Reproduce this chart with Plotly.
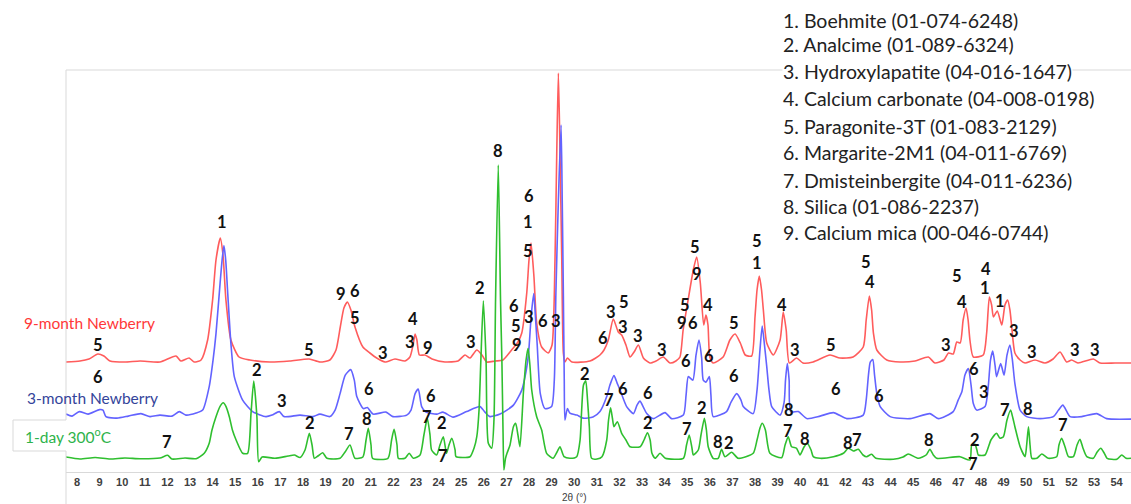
import plotly.graph_objects as go

# ---------------- data (2θ in degrees, intensity above each pattern's own baseline, a.u.) ----------------
red_2theta = [7.51, 8.13, 8.53, 8.92, 9.19, 9.46, 10.12, 10.79, 11.67, 12.38, 12.60, 12.96, 13.18, 13.49, 13.78,
              14.00, 14.15, 14.34, 14.46, 14.59, 14.81, 15.17, 15.65, 16.54, 17.42, 18.27, 18.75, 19.19, 19.46, 19.65,
              19.81, 19.96, 20.12, 20.30, 20.65, 20.96, 21.26, 21.63, 22.07, 22.51, 22.73, 22.87, 22.96, 23.04, 23.15,
              23.40, 23.71, 24.28, 24.86, 25.17, 25.39, 25.69, 25.92, 26.13, 26.50, 26.85, 27.23, 27.51, 27.68, 27.90,
              28.00, 28.09, 28.22, 28.34, 28.56, 28.85, 29.02, 29.15, 29.23, 29.30, 29.37, 29.45, 29.52, 29.59, 29.70,
              29.90, 30.70, 31.14, 31.32, 31.51, 31.73, 31.95, 32.10, 32.29, 32.47, 32.65, 32.84, 33.06, 33.35, 33.62,
              33.94, 34.24, 34.50, 34.68, 34.82, 35.04, 35.27, 35.42, 35.58, 35.73, 35.83, 35.92, 36.00, 36.15, 36.59,
              36.89, 37.12, 37.35, 37.57, 37.85, 38.00, 38.09, 38.19, 38.29, 38.37, 38.52, 38.81, 39.11, 39.25, 39.38,
              39.52, 39.84, 40.12, 40.57, 41.32, 41.76, 42.34, 42.79, 42.92, 43.06, 43.16, 43.24, 43.39, 43.83, 44.42,
              45.08, 45.67, 45.96, 46.36, 46.56, 46.77, 46.93, 47.08, 47.21, 47.34, 47.43, 47.51, 47.66, 48.10, 48.25,
              48.37, 48.47, 48.55, 48.72, 48.92, 49.06, 49.18, 49.28, 49.36, 49.50, 49.73, 49.95, 50.39, 50.83, 51.19,
              51.50, 51.79, 52.01, 52.29, 52.97, 53.27, 53.93, 54.64]
red_counts = [0, 1, 3, 8, 6, 1, 0, 1, 0, 6, 1, 4, 0, 2, 22,
              62, 102, 124, 107, 62, 22, 5, 2, 0, 1, 3, 0, 2, 12, 35,
              54, 60, 52, 35, 15, 9, 4, 0, 3, 1, 5, 17, 28, 22, 7,
              7, 3, 0, 1, 7, 4, 12, 7, 0, 1, 2, 12, 20, 29, 69,
              102, 119, 85, 39, 15, 9, 17, 102, 212, 289, 212, 102, 9, 0, 4,
              0, 1, 7, 12, 22, 43, 30, 27, 17, 5, 10, 17, 4, -1, 1,
              5, -1, 1, 5, 32, 62, 92, 105, 79, 37, 47, 37, 5, -1, 5,
              22, 28, 19, 7, 6, 45, 72, 86, 72, 52, 19, 7, 22, 50, 32,
              -1, 4, -1, 0, 7, 4, 5, 15, 42, 66, 52, 29, 12, 2, 0,
              1, 5, -1, 2, 9, 8, 20, 19, 42, 54, 42, 22, 5, 7, 29,
              65, 57, 45, 51, 37, 57, 62, 52, 35, 9, 2, -1, 2, -1, 3,
              10, 0, 2, -1, 3, -1, -1, -1]

blue_2theta = [7.51, 7.78, 8.10, 8.49, 8.99, 9.15, 9.28, 9.77, 10.27, 10.83, 11.23, 11.67, 12.20, 12.53, 12.82,
               13.27, 13.56, 13.85, 14.02, 14.15, 14.33, 14.42, 14.50, 14.58, 14.67, 14.81, 14.96, 15.33, 15.77, 16.36,
               16.63, 16.95, 17.16, 17.87, 18.43, 18.75, 19.19, 19.42, 19.64, 19.87, 20.11, 20.27, 20.38, 20.67, 20.85,
               21.10, 21.67, 21.98, 22.59, 22.78, 22.96, 23.10, 23.25, 23.44, 23.93, 24.19, 24.64, 25.24, 25.83, 26.05,
               26.27, 26.72, 27.31, 27.68, 27.88, 27.98, 28.10, 28.21, 28.28, 28.36, 28.50, 28.71, 29.00, 29.12, 29.19,
               29.30, 29.42, 29.47, 29.52, 29.56, 29.59, 29.70, 29.81, 30.12, 30.39, 30.83, 31.14, 31.44, 31.58, 31.76,
               31.90, 32.03, 32.32, 32.62, 32.78, 32.91, 33.06, 33.21, 33.50, 34.02, 34.31, 34.83, 34.95, 35.05, 35.25,
               35.39, 35.52, 35.64, 35.71, 35.83, 35.98, 36.05, 36.15, 36.74, 36.94, 37.19, 37.38, 37.48, 37.92, 38.09,
               38.22, 38.32, 38.42, 38.52, 38.62, 38.74, 39.11, 39.29, 39.35, 39.43, 39.51, 39.58, 39.92, 40.29, 40.88,
               41.47, 42.06, 42.79, 42.92, 43.02, 43.10, 43.21, 43.29, 43.39, 43.54, 43.98, 44.86, 45.74, 46.11, 46.77,
               46.99, 47.15, 47.29, 47.44, 47.56, 47.66, 47.81, 48.18, 48.32, 48.42, 48.52, 48.62, 48.69, 48.87, 49.02,
               49.15, 49.28, 49.39, 49.50, 49.73, 50.02, 50.61, 51.20, 51.43, 51.62, 51.81, 51.94, 52.46, 53.12, 53.56,
               54.64]
blue_counts = [2.5, 0.5, 5, 2.5, 7, 6.5, 0, -1.5, 0.5, 3, 0, 1.5, 0.5, 5, 1.5,
               3.5, 6.5, 30, 56.5, 83, 133, 156.5, 171, 156.5, 123, 73, 40, 16.5, 5, 0,
               1.5, 5, 0, 1.5, 0, 2.5, 0, 6.5, 23, 41.5, 47, 36.5, 20, 8, 9,
               2.5, 4.5, 0, 1.5, 6.5, 23, 27.5, 10, 4.5, 2.5, 4.5, -0.5, 5, 10, 4.5,
               0, 2.5, 11.5, 26.5, 46.5, 63, 101.5, 123, 101.5, 73, 23, 8, 10, 36.5, 123,
               216.5, 291.5, 216.5, 123, 36.5, -3.5, 8, 3.5, 1.5, -1.5, -0.5, 5, 20, 31.5, 41,
               33.5, 26.5, 10, 3, 11.5, 15.5, 9.5, 3, -2, 4, -2, 1.5, 21.5, 40, 36.5,
               61.5, 76.5, 58.5, 36.5, 34.5, 40, 21.5, 0, 5, 14.5, 23, 16.5, 10, 3, 26.5,
               66.5, 90.5, 71.5, 50, 26.5, 10, 1.5, 14.5, 36.5, 53, 36.5, 5, 5, -2, 0.5,
               4, -2, 1.5, 16.5, 41.5, 54.5, 57, 41.5, 23, 10, 0, -2, 3, -2, 5,
               16.5, 24.5, 41.5, 48, 31.5, 13, 6.5, 10, 30, 56.5, 65.5, 51.5, 40, 53, 41.5,
               61.5, 71.5, 56.5, 33, 6.5, 0, -2, 0, 6.5, 11.5, 4.5, 0, 0, 3, -2,
               -2.5]

green_2theta = [7.51, 8.13, 8.80, 9.46, 10.12, 10.79, 11.67, 12.01, 12.20, 12.78, 13.27, 13.63, 13.85, 13.97, 14.15,
                14.33, 14.47, 14.59, 14.74, 14.88, 15.04, 15.33, 15.55, 15.70, 15.82, 15.96, 16.04, 16.19, 16.76, 17.34,
                17.62, 17.87, 18.09, 18.28, 18.40, 18.50, 18.66, 18.87, 19.06, 19.64, 19.86, 20.08, 20.30, 20.65, 20.79,
                20.89, 21.01, 21.08, 21.76, 21.92, 22.03, 22.16, 22.22, 22.51, 22.70, 22.88, 23.18, 23.35, 23.50, 23.62,
                23.69, 23.91, 24.06, 24.21, 24.35, 24.46, 24.58, 24.73, 24.77, 25.39, 25.57, 25.69, 25.79, 25.87, 25.98,
                26.10, 26.20, 26.35, 26.45, 26.52, 26.64, 26.74, 26.80, 26.85, 26.89, 26.96, 27.03, 27.16, 27.31, 27.41,
                27.51, 27.60, 27.75, 27.87, 27.96, 28.04, 28.12, 28.34, 28.56, 28.78, 29.06, 29.24, 29.37, 29.55, 29.81,
                30.11, 30.26, 30.33, 30.41, 30.51, 30.59, 30.67, 30.77, 31.01, 31.23, 31.44, 31.52, 31.61, 31.69, 31.76,
                31.91, 32.10, 32.29, 32.47, 32.92, 33.09, 33.24, 33.36, 33.44, 33.58, 33.80, 34.03, 34.83, 34.97, 35.09,
                35.21, 35.27, 35.49, 35.61, 35.76, 35.85, 35.93, 36.15, 36.37, 36.52, 36.67, 36.97, 37.26, 37.92, 38.09,
                38.22, 38.32, 38.46, 38.66, 39.18, 39.33, 39.47, 39.62, 39.84, 39.99, 40.17, 40.31, 40.48, 40.58, 40.88,
                41.47, 41.91, 42.13, 42.35, 42.57, 42.78, 42.94, 43.16, 43.35, 44.12, 44.55, 44.78, 45.23, 45.57, 45.74,
                45.89, 46.04, 47.07, 47.51, 47.59, 47.73, 47.82, 47.88, 48.18, 48.44, 48.69, 48.84, 48.99, 49.15, 49.31,
                49.41, 49.50, 49.73, 49.95, 50.02, 50.10, 50.17, 50.25, 50.47, 50.69, 50.98, 51.35, 51.45, 51.57, 51.72,
                51.87, 52.09, 52.25, 52.38, 52.51, 52.68, 52.97, 53.14, 53.30, 53.45, 53.58, 54.01, 54.23, 54.42, 54.64]
green_counts = [1.3, -0.7, 0.8, -0.7, 0.3, -0.5, 0.3, 3, -0.7, 0.3, -0.4, 5, 15, 28, 41.6,
                52, 55.6, 52, 41.6, 28, 18.3, 5, 5, 45, 77.3, 41.6, -3.4, 1.3, 0, 2.3,
                3.3, 0.8, 8.3, 25, 13.3, 0, 2.3, 5.6, 0, 0, 6.3, 13.3, 0, 1.3, 18.3,
                30, 13.3, 0, 0, 18.3, 29, 13.3, 0, 0, 5, 0, 3.3, 23.3, 40, 23.3,
                8.3, 3.3, 13.3, 21.6, 5, 13.3, 20, 8.3, 1.6, 1.6, 10.3, 21.6, 48.3, 98.3, 157.6,
                98.3, 15, 10, 38.3, 158.3, 293.3, 158.3, 98.3, 28.3, -11.7, 0, 5.3, 13.3, 31.6, 35,
                23.3, 11.6, 65, 98.3, 110, 93.3, 68.3, 41.6, 28.3, 5, 0, 6.3, 11.6, 1.6, 0,
                1.6, 18.3, 48.3, 73.3, 77.6, 58.3, 31.6, 0, -0.7, 1.6, 18.3, 38.3, 50.6, 40.3, 31.6,
                36.6, 25, 18.3, 11.6, 11.6, 18.3, 25.6, 18.3, 5, 0, 5, 0, 0, 13.3, 23.3,
                10.3, 3.3, 8.3, 23.3, 40, 28.3, 11.6, 0, 0, 9, 1.6, 6, 0, 5, 18.3,
                30.3, 35, 28.3, 5, 0.6, 13.3, 21.6, 11.6, 10, 3.3, 11.3, 15, 8.3, 1.6, 0,
                1.6, 5, 10, 7.3, 9, 3.3, 1.6, 4, 0, -1, 1.3, 4.3, 0, 3.3, 9,
                3.3, 0, 1.6, -1.7, 13.3, 14, 8.3, 3.3, 3.3, 18.3, 25, 20, 21.6, 38.3, 48.3,
                40.3, 31.6, 11.6, 1.6, 13.3, 31.6, 13.3, 0, 0, 4.3, 0, 1.6, 13.3, 20, 11.3,
                1.6, 1.6, 13.3, 19, 10.3, 1.6, 0, 6.3, 10, 5.3, 0, -1, 3.3, 0, 0]

series_names = ["9-month Newberry", "3-month Newberry", "1-day 300<sup>o</sup>C"]

x_ticks = list(range(8, 55))
x_tick_labels = [str(v) for v in x_ticks]

phase_legend = [
    "1. Boehmite (01-074-6248)",
    "2. Analcime (01-089-6324)",
    "3. Hydroxylapatite (04-016-1647)",
    "4. Calcium carbonate (04-008-0198)",
    "5. Paragonite-3T (01-083-2129)",
    "6. Margarite-2M1 (04-011-6769)",
    "7. Dmisteinbergite (04-011-6236)",
    "8. Silica (01-086-2237)",
    "9. Calcium mica (00-046-0744)",
]

# peak identification labels: text, 2θ, height on the stacked plot
peak_text = ["1", "5", "6", "7", "2", "5", "3", "2", "9", "6", "5", "6", "8", "7", "3", "4", "3", "9", "6", "7",
             "2", "7", "3", "2", "8", "6", "5", "9", "6", "1", "5", "3", "6", "3", "4", "2", "7", "6", "3", "5",
             "3", "6", "3", "6", "2", "3", "7", "5", "9", "6", "6", "5", "9", "4", "2", "6", "8", "2", "5", "6",
             "5", "1", "4", "3", "8", "7", "8", "5", "6", "8", "7", "5", "4", "6", "8", "3", "5", "4", "6", "3",
             "2", "7", "4", "1", "1", "3", "3", "3", "3", "7", "8", "7"]
peak_2theta = [14.40, 8.93, 8.93, 11.97, 15.95, 18.28, 17.08, 18.31, 19.68, 20.30, 20.32, 20.93, 20.81, 20.03, 21.55,
               22.88, 22.73, 23.54, 23.65, 23.47, 24.15, 24.21, 25.43, 25.83, 26.64, 27.34, 27.42, 27.48, 28.01, 27.97,
               27.94, 28.01, 28.61, 29.19, 29.23, 30.48, 31.55, 31.29, 31.63, 32.20, 32.15, 32.15, 32.84, 33.28, 33.27,
               33.87, 35.00, 34.90, 34.76, 35.27, 34.95, 35.35, 35.43, 35.91, 35.64, 35.98, 36.38, 36.86, 37.08, 37.08,
               38.11, 38.10, 39.18, 39.77, 39.52, 39.47, 40.21, 41.36, 41.58, 42.13, 42.53, 42.91, 43.07, 43.49, 45.71,
               46.46, 46.95, 47.18, 47.69, 48.13, 47.72, 47.65, 48.22, 48.18, 48.83, 49.46, 50.26, 52.16, 53.04, 49.06,
               50.09, 51.63]
peak_level = [250.3, 127, 95.3, 30.3, 102, 122, 70.7, 49, 178.5, 181, 154.5, 82.7, 52.7, 38.3, 118.7,
              152.7, 130.3, 123.7, 76, 55.3, 49.3, 16, 130.3, 183.7, 321.3, 166, 146.5, 127.5, 276, 250.3,
              221.3, 155.3, 151.3, 151.3, 410.3, 98, 72, 133.7, 160.3, 170.3, 144.7, 83.2, 136, 79, 49,
              122, 43, 167.5, 149.5, 149.5, 111.3, 225.3, 198, 167, 63.7, 116.3, 30.3, 28.7, 148.7, 96,
              231.3, 208.7, 167, 122, 62, 41.3, 33, 127, 82.7, 29.3, 32, 209.7, 189.7, 76, 32.4,
              127.5, 195.7, 170.3, 103, 80, 32.4, 8, 203.5, 184, 170.8, 141, 120.3, 122.3, 122.3, 62,
              62.7, 47]

# ---------------- layout / style ----------------
W, H = 1131, 504
ML, MR, MT, MB = 66, 0, 70, 32
PW, PH = W - ML - MR, H - MT - MB
Y_MAX = 402
offsets = [110, 55.4, 13.7]
line_colors = ["#ff5c5c", "#6363ff", "#2fbf2f"]
name_colors = ["#ff3838", "#34449a", "#2db34a"]
name_pos = [(21.7, 323.3), (25, 397.7), (23.3, 435.7)]
GRID = "#d9d9d9"


def px_x(px):
    return (px - ML) / PW


def px_y(py):
    return (H - MB - py) / PH


fig = go.Figure()
for xs, ys, off, col in [(red_2theta, red_counts, offsets[0], line_colors[0]),
                         (blue_2theta, blue_counts, offsets[1], line_colors[1]),
                         (green_2theta, green_counts, offsets[2], line_colors[2])]:
    fig.add_trace(go.Scatter(x=xs, y=[v + off for v in ys], mode="lines",
                             line=dict(color=col, width=1.6, shape="spline", smoothing=0.6),
                             hoverinfo="skip", showlegend=False))

annotations = []
for t, x2, yl in zip(peak_text, peak_2theta, peak_level):
    annotations.append(dict(x=x2, y=yl, xref="x", yref="y", text=t, showarrow=False,
                            borderpad=0,
                            font=dict(family="Lato", size=16.5, color="#111111", weight="bold")))

for name, col, (px, py) in zip(series_names, name_colors, name_pos):
    annotations.append(dict(x=px_x(px), y=px_y(py), xref="paper", yref="paper", text=name,
                            showarrow=False, xanchor="left", yanchor="middle",
                            font=dict(family="Lato", size=15.5, color=col)))

legend_y = [20, 44.3, 71, 98.3, 126, 152.3, 180, 206, 232.3]
for txt, py in zip(phase_legend, legend_y):
    annotations.append(dict(x=px_x(782), y=px_y(py), xref="paper", yref="paper", text=txt,
                            showarrow=False, xanchor="left", yanchor="middle",
                            bgcolor="white", borderpad=0,
                            font=dict(family="Lato", size=19.5, color="#222222")))

annotations.append(dict(x=px_x(574), y=px_y(497), xref="paper", yref="paper", text="2θ (°)",
                        showarrow=False, xanchor="center", yanchor="middle",
                        font=dict(family="Liberation Sans", size=10, color="#404040")))

shapes = [
    dict(type="line", xref="paper", yref="paper", x0=0, x1=1, y0=1, y1=1, line=dict(color=GRID, width=1), layer="below"),
    dict(type="line", xref="paper", yref="paper", x0=0, x1=0, y0=px_y(70), y1=px_y(420), line=dict(color=GRID, width=1)),
    dict(type="line", xref="paper", yref="paper", x0=0, x1=0, y0=px_y(451), y1=px_y(504), line=dict(color=GRID, width=1)),
    dict(type="line", xref="paper", yref="paper", x0=px_x(13), x1=0, y0=px_y(420), y1=px_y(420), line=dict(color=GRID, width=1)),
    dict(type="line", xref="paper", yref="paper", x0=px_x(13), x1=px_x(13), y0=px_y(420), y1=px_y(451), line=dict(color=GRID, width=1)),
    dict(type="line", xref="paper", yref="paper", x0=px_x(13), x1=0, y0=px_y(451), y1=px_y(451), line=dict(color=GRID, width=1)),
]

x_lo = 8 - (77 - ML) / 22.6
x_hi = x_lo + PW / 22.6

fig.update_layout(
    width=W, height=H,
    margin=dict(l=ML, r=MR, t=MT, b=MB, pad=0),
    paper_bgcolor="white", plot_bgcolor="white",
    showlegend=False,
    xaxis=dict(range=[x_lo, x_hi], tickmode="array", tickvals=x_ticks, ticktext=x_tick_labels,
               showgrid=False, zeroline=False, showline=True, linecolor=GRID, linewidth=1,
               ticks="", ticklen=0,
               tickfont=dict(family="Liberation Sans", size=11, color="#404040", weight="bold")),
    yaxis=dict(range=[0, Y_MAX], showgrid=False, zeroline=False, showline=False,
               showticklabels=False, ticks=""),
    annotations=annotations,
    shapes=shapes,
)

fig.write_html("out.html")
